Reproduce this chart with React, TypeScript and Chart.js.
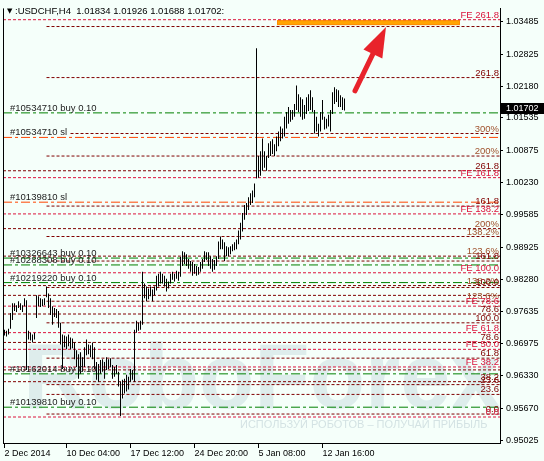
import React, { useEffect, useRef } from 'react';
import { Chart, registerables } from 'chart.js';

Chart.register(...registerables);

const chartTitle = ':USDCHF,H4  1.01834 1.01926 1.01688 1.01702:';
const lastPrice = 1.01702;

// H4 bars, one per 4 hours, from 2 Dec 2014
const barHighs: number[] = [
  0.97262, 0.97243, 0.97282, 0.97599, 0.97797, 0.97797, 0.97757, 0.97837, 0.97797, 0.97757,
  0.97896, 0.97856, 0.97243, 0.97203, 0.97163, 0.97203, 0.97955, 0.97936, 0.97896, 0.97876,
  0.97896, 0.98134, 0.97995, 0.97896, 0.97738, 0.97698, 0.97678, 0.97639, 0.97401, 0.97163,
  0.97144, 0.97124, 0.97163, 0.97104, 0.97084, 0.97005, 0.96847, 0.96767, 0.96807, 0.96708,
  0.96906, 0.97064, 0.96965, 0.96946, 0.97005, 0.96906, 0.96609, 0.96569, 0.96649, 0.96668,
  0.96609, 0.96708, 0.96668, 0.96688, 0.9655, 0.9651, 0.9655, 0.96411, 0.96213, 0.96253,
  0.96272, 0.96352, 0.96312, 0.9647, 0.96451, 0.97262, 0.97441, 0.97401, 0.97441, 0.98431,
  0.98193, 0.98134, 0.98094, 0.98134, 0.98074, 0.98134, 0.98351, 0.98391, 0.98431, 0.98391,
  0.98351, 0.98292, 0.98233, 0.98391, 0.98431, 0.98391, 0.9845, 0.98431, 0.98728, 0.98846,
  0.98827, 0.98787, 0.98688, 0.98648, 0.98629, 0.98589, 0.98549, 0.9853, 0.98629, 0.98688,
  0.98846, 0.98827, 0.98827, 0.98747, 0.98688, 0.98668, 0.98747, 0.99044, 0.99143, 0.99084,
  0.99025, 0.98945, 0.98926, 0.98945, 0.98985, 0.99025, 0.99084, 0.99262, 0.99421, 0.99619,
  0.99777, 0.99817, 0.99935, 1.00015, 1.00074, 1.00213, 1.02945, 1.00767, 1.00866, 1.01123,
  1.00866, 1.00767, 1.01024, 1.01064, 1.01104, 1.01005, 1.01163, 1.01262, 1.01361, 1.01321,
  1.01559, 1.01658, 1.01757, 1.01698, 1.01698, 1.01816, 1.02193, 1.02014, 1.01955, 1.01915,
  1.01797, 1.01955, 1.02014, 1.02094, 1.01955, 1.01698, 1.01559, 1.0142, 1.01658, 1.01896,
  1.01559, 1.01519, 1.01599, 1.01698, 1.02054, 1.02153, 1.02113, 1.02094, 1.01995, 1.01955,
  1.01926,
];

const barLows: number[] = [
  0.97144, 0.97124, 0.97163, 0.97282, 0.9746, 0.97639, 0.97619, 0.97698, 0.97658, 0.97619,
  0.97738, 0.96451, 0.97064, 0.97045, 0.97005, 0.97064, 0.975, 0.97738, 0.97718, 0.97738,
  0.97757, 0.97916, 0.97698, 0.97559, 0.97361, 0.9752, 0.975, 0.97302, 0.96965, 0.9647,
  0.96906, 0.96866, 0.96926, 0.96866, 0.96886, 0.96668, 0.9651, 0.96272, 0.96371, 0.96411,
  0.9651, 0.96748, 0.96767, 0.96708, 0.96668, 0.9647, 0.96253, 0.96213, 0.96371, 0.96411,
  0.96272, 0.96451, 0.9647, 0.9651, 0.96272, 0.96312, 0.96371, 0.96114, 0.9552, 0.95876,
  0.95975, 0.96015, 0.96055, 0.96213, 0.96253, 0.96213, 0.97203, 0.97243, 0.97262, 0.97361,
  0.97896, 0.97837, 0.97876, 0.97936, 0.97837, 0.97955, 0.98054, 0.98134, 0.98193, 0.98193,
  0.98134, 0.98035, 0.98094, 0.98193, 0.98272, 0.98233, 0.98292, 0.98252, 0.98332, 0.98549,
  0.98589, 0.98549, 0.9849, 0.98431, 0.98351, 0.98391, 0.98351, 0.98371, 0.98431, 0.9849,
  0.98629, 0.98668, 0.98549, 0.9849, 0.98431, 0.9847, 0.98549, 0.98688, 0.98886, 0.98886,
  0.98648, 0.98747, 0.98747, 0.98787, 0.98846, 0.98866, 0.98886, 0.98985, 0.99084, 0.99242,
  0.9948, 0.99579, 0.99678, 0.99777, 0.99817, 0.99935, 1.00312, 1.00331, 1.00371, 1.0047,
  1.00529, 1.0047, 1.00727, 1.00767, 1.00807, 1.00767, 1.00866, 1.00965, 1.01064, 1.01123,
  1.01163, 1.01321, 1.0142, 1.0146, 1.015, 1.01559, 1.01698, 1.01658, 1.01559, 1.015,
  1.01519, 1.01618, 1.01678, 1.01698, 1.01658, 1.01222, 1.01262, 1.01163, 1.01262, 1.015,
  1.01302, 1.01321, 1.01361, 1.01262, 1.01618, 1.01816, 1.01856, 1.01757, 1.01757, 1.01698,
  1.01688,
];

const timeTickIndex = [0, 31, 63, 95, 127, 159];
const timeTickLabels = ['2 Dec 2014', '10 Dec 04:00', '17 Dec 12:00', '24 Dec 20:00', '5 Jan 08:00', '12 Jan 16:00'];

const priceTicks = [
  1.03485, 1.02825, 1.0218, 1.01535, 1.00875, 1.0023, 0.99585,
  0.98925, 0.9828, 0.97635, 0.96975, 0.9633, 0.9567, 0.95025,
];

// horizontal levels: price, kind, first bar, label
const levelPrices = [
  1.03519, 1.03381, 1.02351, 1.01638, 1.01222, 1.01143, 1.00767, 1.0047, 1.00331, 0.99836,
  0.99757, 0.99599, 0.99302, 0.99143, 0.98747, 0.98708, 0.98648, 0.98569, 0.98411, 0.98213,
  0.98153, 0.98114, 0.97955, 0.97837, 0.97738, 0.97579, 0.97401, 0.97203, 0.97005, 0.96866,
  0.96688, 0.9651, 0.96451, 0.96371, 0.96213, 0.96154, 0.95956, 0.95698, 0.9556, 0.955,
];
const levelKinds = [
  'fe', 'fib', 'fib', 'buy', 'pct', 'sl', 'pct', 'fib', 'fe', 'sl',
  'fib', 'fe', 'pct', 'pct', 'pct', 'buy', 'fib', 'buy', 'fe', 'buy',
  'pct', 'fib', 'fib', 'pct', 'fe', 'fib', 'fib', 'fe', 'fib', 'fe',
  'fib', 'fe', 'fib', 'buy', 'fib', 'fib', 'fib', 'buy', 'fib', 'fe',
];
const levelStarts = [
  -1, 21, 21, -1, 33, -1, 21, -1, -1, -1,
  21, -1, -1, 21, -1, -1, 21, -1, -1, -1,
  -1, 21, -1, 21, -1, -1, 21, -1, -1, -1,
  21, -1, -1, -1, -1, 21, 21, -1, 21, -1,
];
const levelLabels = [
  'FE 261.8', '', '261.8', '#10534710 buy 0.10', '300%', '#10534710 sl', '200%', '261.8', 'FE 161.8', '#10139810 sl',
  '161.8', 'FE 138.2', '200%', '138.2%', '123.6%', '#10326643 buy 0.10', '161.8', '#10288308 buy 0.10', 'FE 100.0', '#10219220 buy 0.10',
  '138.2%', '100.0', '', '123.6%', 'FE 78.6', '78.6', '100.0', 'FE 61.8', '78.6', 'FE 50.0',
  '61.8', 'FE 38.2', '', '#10162014 buy 0.10', '38.2', '23.6', '23.6', '#10139810 buy 0.10', '0.0', '0.0',
];

const zoneBars = [136.25, 227.75];
const zonePrices = [1.03509, 1.0341];
const arrowFrom = { bar: 175.25, price: 1.02084 };
const arrowTo = { bar: 190.75, price: 1.03371 };

const X_MIN = -0.75;
const X_MAX = 247.75;
const Y_MIN = 0.949755;
const Y_MAX = 1.037469;

const BG = '#F5FFFA';
const FONT = '"Liberation Sans", Arial, sans-serif';

const lineColor: Record<string, string> = {
  fe: '#DC143C', fib: '#800000', pct: '#800000', buy: '#008000', sl: '#FF4500',
};
const labelColor: Record<string, string> = {
  fe: '#DC143C', fib: '#800000', pct: '#A0522D', buy: '#222222', sl: '#222222',
};
const lineDash: Record<string, number[]> = {
  fe: [3, 2], fib: [3, 2], pct: [3, 2], buy: [9, 3, 3, 3], sl: [9, 3, 3, 3],
};

const overlay = {
  id: 'mt4overlay',
  beforeDraw(chart: any) {
    const { ctx, width, height } = chart;
    ctx.save();
    ctx.fillStyle = BG;
    ctx.fillRect(0, 0, width, height);
    ctx.restore();
  },
  beforeDatasetsDraw(chart: any) {
    const { ctx, chartArea: a, scales } = chart;
    const x = scales.x;
    const y = scales.y;
    ctx.save();
    ctx.beginPath();
    ctx.rect(a.left, a.top, a.right - a.left, a.bottom - a.top);
    ctx.clip();
    // watermark
    ctx.fillStyle = 'rgba(170,196,206,0.30)';
    ctx.font = `bold 92px ${FONT}`;
    ctx.textAlign = 'left';
    ctx.textBaseline = 'alphabetic';
    ctx.fillText('RoboForex', a.left + 20, 408, 478);
    ctx.fillStyle = 'rgba(170,190,200,0.45)';
    ctx.font = `11px ${FONT}`;
    ctx.fillText('ИСПОЛЬЗУЙ РОБОТОВ – ПОЛУЧАЙ ПРИБЫЛЬ', a.left + 237, 428, 252);
    // orange zone
    const zx0 = x.getPixelForValue(zoneBars[0]);
    const zx1 = x.getPixelForValue(zoneBars[1]);
    const zy0 = y.getPixelForValue(zonePrices[0]);
    const zy1 = y.getPixelForValue(zonePrices[1]);
    ctx.fillStyle = '#FFA500';
    ctx.fillRect(zx0, zy0, zx1 - zx0, zy1 - zy0);
    ctx.strokeStyle = '#FF8C00';
    ctx.lineWidth = 1;
    ctx.strokeRect(zx0 + 0.5, zy0 + 0.5, zx1 - zx0 - 1, zy1 - zy0 - 1);
    ctx.restore();
  },
  afterDatasetsDraw(chart: any) {
    const { ctx, chartArea: a, scales } = chart;
    const x = scales.x;
    const y = scales.y;
    ctx.save();
    // left frame line
    ctx.strokeStyle = '#000';
    ctx.lineWidth = 1;
    ctx.beginPath();
    ctx.moveTo(a.left + 0.5, a.top);
    ctx.lineTo(a.left + 0.5, a.bottom);
    ctx.stroke();
    // level labels
    ctx.font = `9.5px ${FONT}`;
    ctx.textBaseline = 'alphabetic';
    levelPrices.forEach((p, i) => {
      const lbl = levelLabels[i];
      if (!lbl) return;
      const k = levelKinds[i];
      const py = y.getPixelForValue(p);
      ctx.fillStyle = labelColor[k];
      if (k === 'buy' || k === 'sl') {
        ctx.textAlign = 'left';
        ctx.fillText(lbl, a.left + 7, py - 2);
      } else {
        ctx.textAlign = 'right';
        ctx.fillText(lbl, a.right - 1, py - 2);
      }
    });
    // arrow
    const tx = x.getPixelForValue(arrowFrom.bar);
    const ty = y.getPixelForValue(arrowFrom.price);
    const hx = x.getPixelForValue(arrowTo.bar);
    const hy = y.getPixelForValue(arrowTo.price);
    const dx = hx - tx;
    const dy = hy - ty;
    const len = Math.sqrt(dx * dx + dy * dy);
    const ux = dx / len;
    const uy = dy / len;
    const headLen = 30;
    const headHalf = 10.5;
    const bx = hx - ux * headLen;
    const by = hy - uy * headLen;
    ctx.strokeStyle = '#E8232B';
    ctx.fillStyle = '#E8232B';
    ctx.lineWidth = 5;
    ctx.lineCap = 'round';
    ctx.beginPath();
    ctx.moveTo(tx, ty);
    ctx.lineTo(bx + ux * 2, by + uy * 2);
    ctx.stroke();
    ctx.beginPath();
    ctx.moveTo(hx, hy);
    ctx.lineTo(bx - uy * headHalf, by + ux * headHalf);
    ctx.lineTo(bx + uy * headHalf, by - ux * headHalf);
    ctx.closePath();
    ctx.fill();
    // title
    ctx.font = `9.5px ${FONT}`;
    const w = ctx.measureText(chartTitle).width;
    ctx.fillStyle = BG;
    ctx.fillRect(a.left + 3, 4, w + 13, 12);
    ctx.fillStyle = '#000';
    ctx.textAlign = 'left';
    ctx.font = `7px "DejaVu Sans", sans-serif`;
    ctx.fillText('▼', a.left + 4, 13);
    ctx.font = `9.5px ${FONT}`;
    ctx.fillText(chartTitle, a.left + 12, 14);
    ctx.restore();
  },
  afterDraw(chart: any) {
    const { ctx, chartArea: a, scales } = chart;
    const py = Math.round(scales.y.getPixelForValue(lastPrice)) - 2;
    ctx.save();
    ctx.fillStyle = '#000';
    ctx.fillRect(a.right + 1, py - 5, 44, 11);
    ctx.fillStyle = '#FFF';
    ctx.font = `9px ${FONT}`;
    ctx.textAlign = 'left';
    ctx.textBaseline = 'middle';
    ctx.fillText(lastPrice.toFixed(5), a.right + 6, py + 0.5);
    ctx.restore();
  },
};

export default function App() {
  const ref = useRef<HTMLCanvasElement | null>(null);

  useEffect(() => {
    if (!ref.current) return;
    const bars = barHighs.map((h, i) => ({ x: i, y: [barLows[i], h] }));
    const levelSets = levelPrices.map((p, i) => {
      const k = levelKinds[i];
      const start = levelStarts[i] < 0 ? X_MIN : levelStarts[i];
      return {
        type: 'line' as const,
        data: [{ x: start, y: p }, { x: X_MAX, y: p }],
        borderColor: lineColor[k],
        borderWidth: 1,
        borderDash: lineDash[k],
        pointRadius: 0,
        fill: false,
        tension: 0,
        order: 1,
      };
    });
    const tickFont = { family: FONT, size: 9 };
    const chart = new Chart(ref.current, {
      type: 'bar',
      data: {
        datasets: [
          {
            type: 'bar',
            data: bars as any,
            backgroundColor: '#000',
            borderWidth: 0,
            barThickness: 1,
            inflateAmount: 0,
            order: 0,
          } as any,
          ...(levelSets as any[]),
        ],
      },
      options: {
        responsive: false,
        animation: false,
        devicePixelRatio: 1,
        events: [],
        layout: { padding: { left: 3, top: 0, right: 0, bottom: 0 } },
        plugins: { legend: { display: false }, tooltip: { enabled: false }, title: { display: false } },
        scales: {
          x: {
            type: 'linear',
            position: 'bottom',
            min: X_MIN,
            max: X_MAX,
            offset: false,
            afterBuildTicks: (s: any) => { s.ticks = timeTickIndex.map((v) => ({ value: v })); },
            afterFit: (s: any) => { s.height = 18; },
            grid: { display: true, drawOnChartArea: false, drawTicks: true, tickLength: 5, color: '#000', offset: false },
            border: { display: true, color: '#000', width: 1 },
            ticks: {
              autoSkip: false,
              maxRotation: 0,
              minRotation: 0,
              align: 'start',
              padding: 0,
              color: '#000',
              font: tickFont,
              callback: (_v: any, i: number) => timeTickLabels[i] ?? '',
            },
          },
          y: {
            type: 'linear',
            position: 'right',
            min: Y_MIN,
            max: Y_MAX,
            afterBuildTicks: (s: any) => { s.ticks = priceTicks.map((v) => ({ value: v })); },
            afterFit: (s: any) => { s.width = 44; },
            grid: { display: true, drawOnChartArea: false, drawTicks: true, tickLength: 3, color: '#000' },
            border: { display: true, color: '#000', width: 1 },
            ticks: {
              autoSkip: false,
              padding: 3,
              color: '#000',
              font: tickFont,
              callback: (v: any) => Number(v).toFixed(5),
            },
          },
        },
      } as any,
      plugins: [overlay],
    });
    return () => chart.destroy();
  }, []);

  return (
    <div style={{ position: 'absolute', left: 0, top: 0, width: 544, height: 461 }}>
      <canvas ref={ref} width={544} height={461} style={{ display: 'block', width: 544, height: 461 }} />
    </div>
  );
}
